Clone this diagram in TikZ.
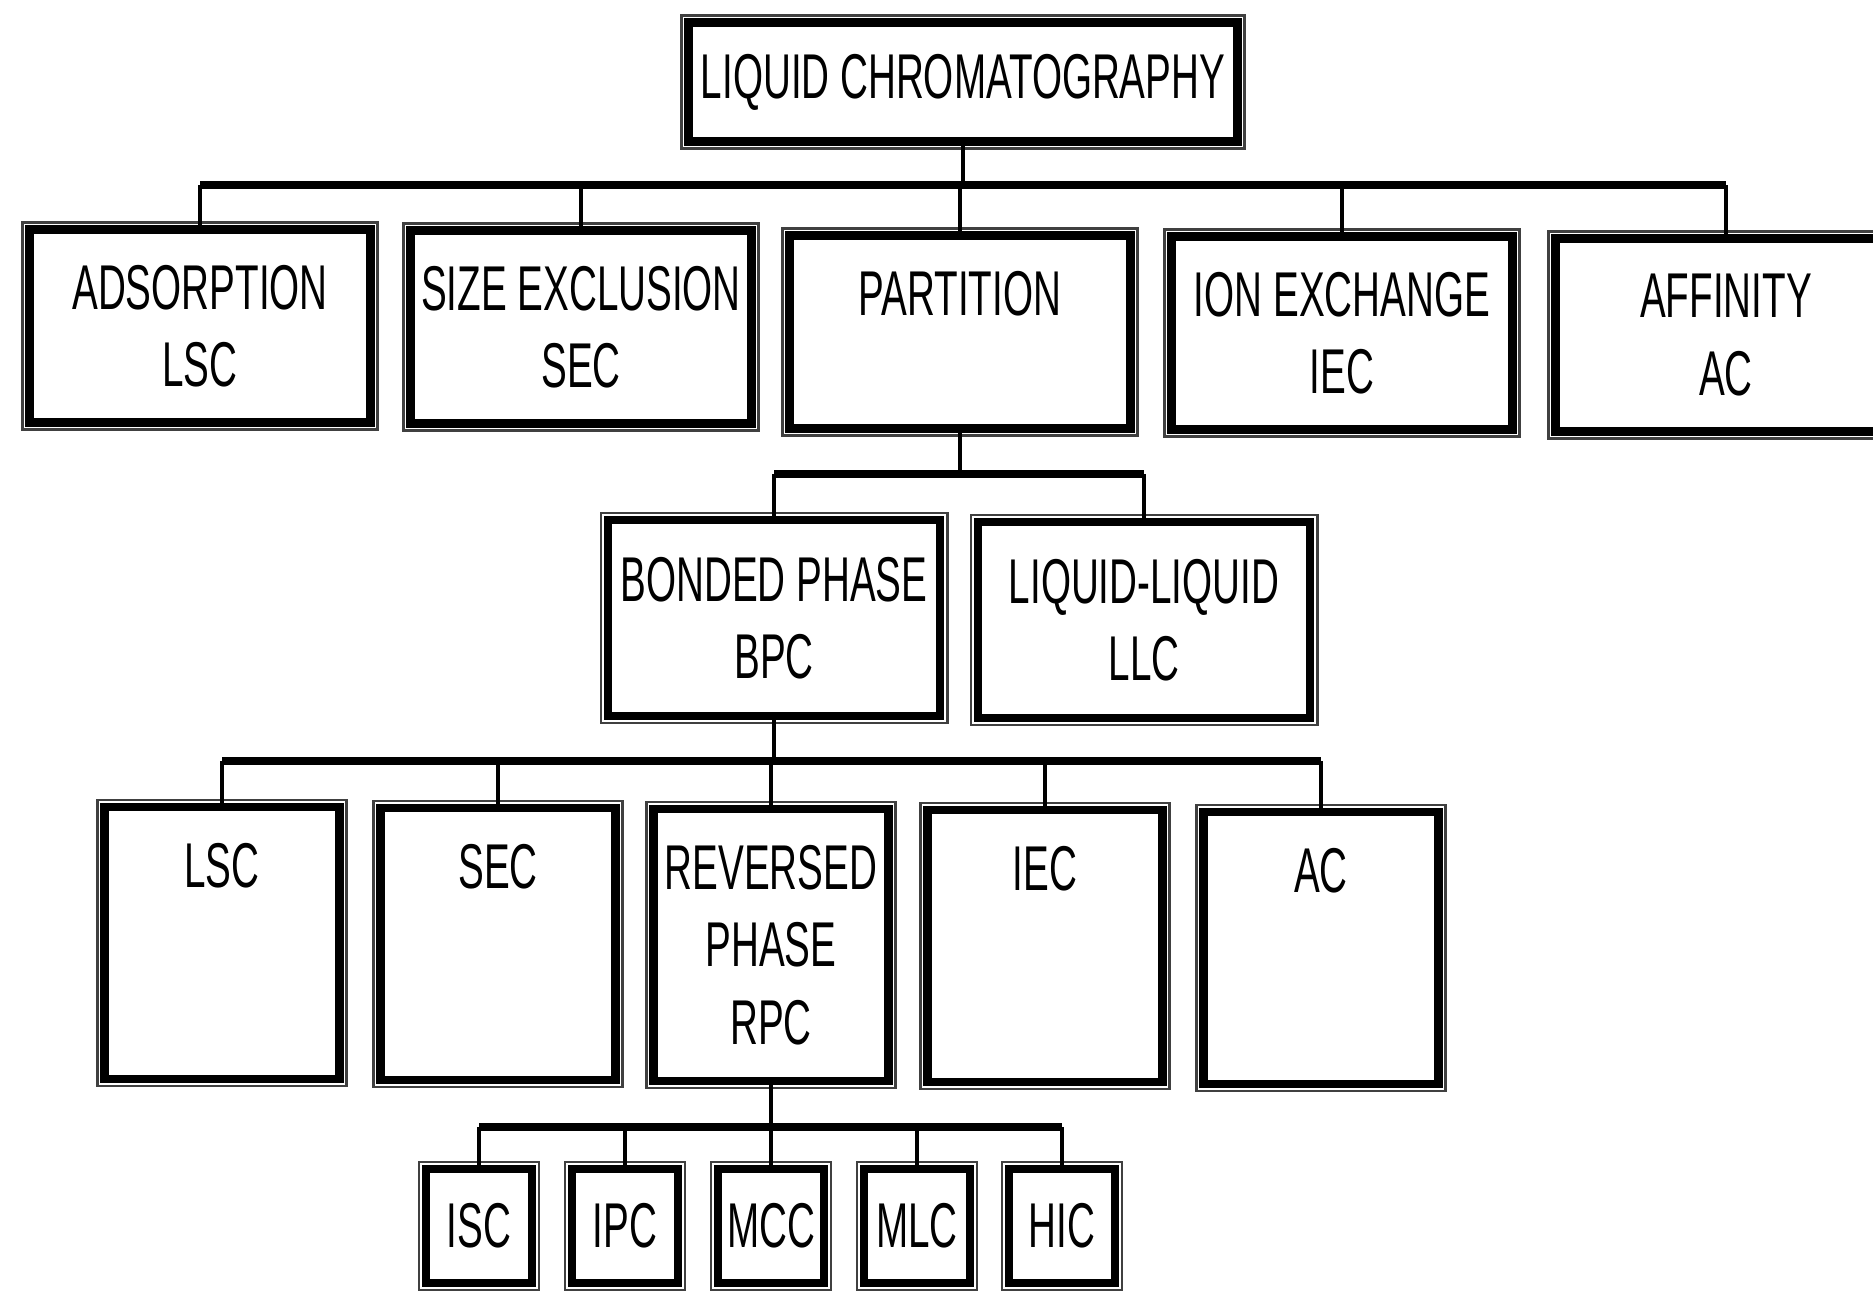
\documentclass[tikz,border=0pt]{standalone}
\usepackage{fontspec}
\setmainfont{Liberation Sans}[FakeStretch=0.61]
\usetikzlibrary{positioning}

\begin{document}
\begin{tikzpicture}[
  x=0.01cm, y=0.01cm,
  font=\fontsize{18}{22}\selectfont,
  box/.style={draw, fill=white, line width=2.4pt, outer sep=0pt, inner sep=0pt, align=center},
  catbox/.style={box, minimum width=3.41cm, minimum height=1.93cm},
  modebox/.style={box, minimum width=3.32cm, minimum height=1.96cm},
  subbox/.style={box, minimum width=2.35cm, minimum height=2.72cm},
  leafbox/.style={box, minimum width=1.06cm, minimum height=1.14cm},
  rim/.style={line width=0.8pt, black!75},
  bar/.style={line width=2.4pt},
  stem/.style={line width=1.3pt}
]
\useasboundingbox (0,0) rectangle (1873,-1294);

% top
\node[box, minimum width=5.49cm, minimum height=1.19cm] (lc) at (963,-82) {LIQUID CHROMATOGRAPHY};

% first level
\node[catbox] (ads) at (200,-326) {ADSORPTION\\LSC};
\node[catbox] (sex) at (581,-327) {SIZE EXCLUSION\\SEC};
\node[catbox] (part) at (960,-332) {PARTITION\\\mbox{}};
\node[catbox] (iex) at (1342,-333) {ION EXCHANGE\\IEC};
\node[catbox] (aff) at (1726,-335) {AFFINITY\\AC};

% partition
\node[modebox] (bpc) at (774,-618) {BONDED PHASE\\BPC};
\node[modebox] (llc) at (1144,-620) {LIQUID-LIQUID\\LLC};

% bonded phase
\node[subbox] (lsc) at (222,-943) {LSC\\\mbox{}\\\mbox{}};
\node[subbox] (sec) at (498,-944) {SEC\\\mbox{}\\\mbox{}};
\node[subbox] (rpc) at (771,-945) {REVERSED\\PHASE\\RPC};
\node[subbox] (iec) at (1045,-946) {IEC\\\mbox{}\\\mbox{}};
\node[subbox] (ac) at (1321,-948) {AC\\\mbox{}\\\mbox{}};

% reversed phase
\node[leafbox] (isc) at (479,-1226) {ISC};
\node[leafbox] (ipc) at (625,-1226) {IPC};
\node[leafbox] (mcc) at (771,-1226) {MCC};
\node[leafbox] (mlc) at (917,-1226) {MLC};
\node[leafbox] (hic) at (1062,-1226) {HIC};

% thin outer frames
\foreach \n in {lc,ads,sex,part,iex,aff,bpc,llc,lsc,sec,rpc,iec,ac,isc,ipc,mcc,mlc,hic}
  \draw[rim] ([shift={(-7,7)}]\n.north west) rectangle ([shift={(7,-7)}]\n.south east);

% connectors
\coordinate (j1) at (963,-185);
\coordinate (j2) at (961,-474);
\coordinate (j3) at (774,-761);
\coordinate (j4) at (771,-1127);

\draw[stem] (lc.south) -- (lc.south |- j1);
\draw[bar] (ads.north |- j1) -- (aff.north |- j1);
\foreach \n in {ads,sex,part,iex,aff}
  \draw[stem] (\n.north) -- (\n.north |- j1);

\draw[stem] (part.south) -- (part.south |- j2);
\draw[bar] (bpc.north |- j2) -- (llc.north |- j2);
\foreach \n in {bpc,llc}
  \draw[stem] (\n.north) -- (\n.north |- j2);

\draw[stem] (bpc.south) -- (bpc.south |- j3);
\draw[bar] (lsc.north |- j3) -- (ac.north |- j3);
\foreach \n in {lsc,sec,rpc,iec,ac}
  \draw[stem] (\n.north) -- (\n.north |- j3);

\draw[stem] (rpc.south) -- (rpc.south |- j4);
\draw[bar] (isc.north |- j4) -- (hic.north |- j4);
\foreach \n in {isc,ipc,mcc,mlc,hic}
  \draw[stem] (\n.north) -- (\n.north |- j4);
\end{tikzpicture}
\end{document}
